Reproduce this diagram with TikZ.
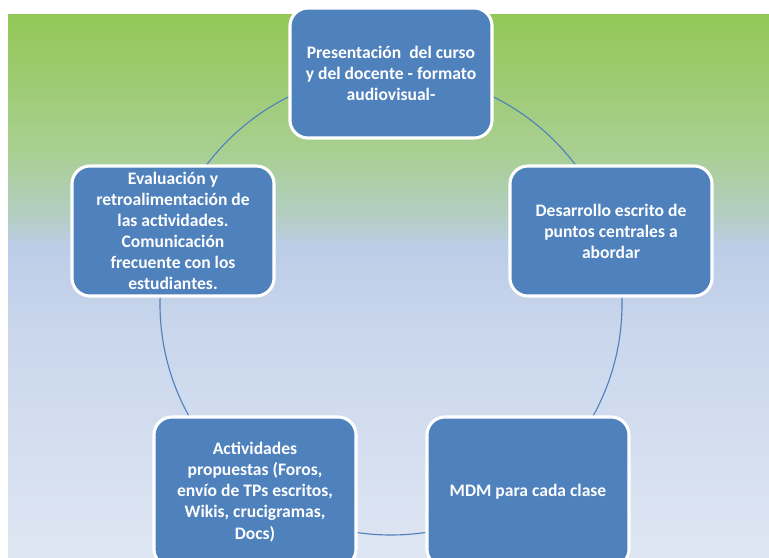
\documentclass[tikz,border=0pt]{standalone}
\usepackage{fontspec}
\setmainfont{Carlito}
\usetikzlibrary{positioning}
\definecolor{boxblue}{HTML}{4F81BD}
\definecolor{bgtop}{HTML}{92C857}
\definecolor{bggreen}{HTML}{A9CF90}
\definecolor{bgmix}{HTML}{B3CEC2}
\definecolor{bgblue}{HTML}{BCCDE7}
\definecolor{bgmid}{HTML}{C9D6EC}
\definecolor{bgbot}{HTML}{DFE6F3}
\pgfdeclareverticalshading{cyclebg}{100bp}{color(0bp)=(bgbot); color(25bp)=(bgbot);
  color(46bp)=(bgmid); color(53.8bp)=(bgblue); color(56.6bp)=(bgmix);
  color(62.6bp)=(bggreen); color(75bp)=(bgtop); color(100bp)=(bgtop)}
\tikzstyle{stage} = [draw=white, line width=2.2pt, fill=boxblue, rounded corners=0.45cm,
text=white, font=\bfseries\fontsize{12.5}{15}\selectfont, align=center,
minimum width=5.05cm, minimum height=3.25cm, inner sep=0pt]
\tikzstyle{ring} = [draw=boxblue, line width=0.8pt]

\begin{document}
\begin{tikzpicture}[x=0.025cm, y=-0.025cm]
    \useasboundingbox (0,0) rectangle (769,558);
    % Background
    \path [shading=cyclebg] (8,15) rectangle (769,558);
    % Cycle
    \coordinate (hub) at (391,304);
    \draw [ring] (hub) circle [radius=231];
    %% Stages
    \node [stage] at (391,73) (present) {Presentación\ \ del curso\\y del docente - formato\\audiovisual-};
    \node [stage] at (611,231) (develop) {Desarrollo escrito de\\puntos centrales a\\abordar};
    \node [stage, minimum height=3.75cm] at (528,492) (mdm) {MDM para cada clase};
    \node [stage, minimum height=3.75cm] at (255,492) (tasks) {Actividades\\propuestas (Foros,\\envío de TPs escritos,\\Wikis, crucigramas,\\Docs)};
    \node [stage] at (173,231) (assess) {Evaluación y\\retroalimentación de\\las actividades.\\Comunicación\\frecuente con los\\estudiantes.};
\end{tikzpicture}
\end{document}
